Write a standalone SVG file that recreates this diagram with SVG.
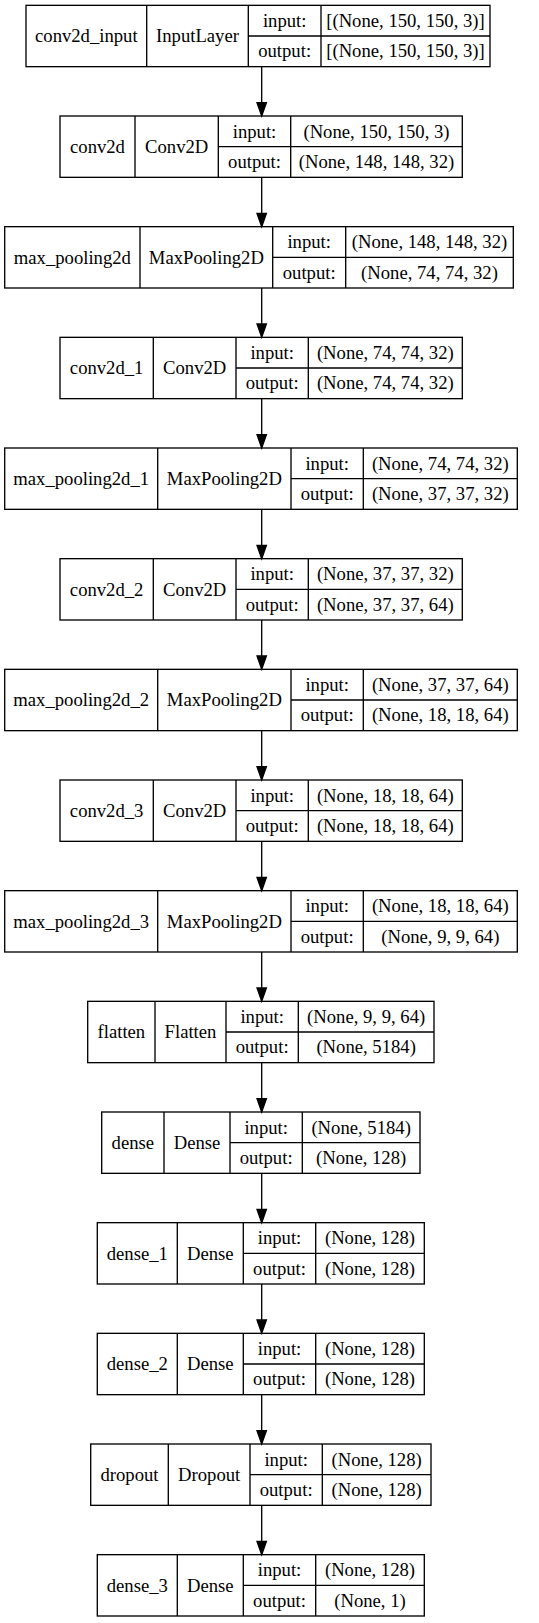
<svg xmlns="http://www.w3.org/2000/svg" width="539" height="1623" viewBox="0 0 539 1623">
<style>
.b{fill:none;stroke:#000;stroke-width:1.33}
text{font-family:"Liberation Serif","Times New Roman",serif;font-size:18.67px;fill:#000;text-anchor:middle}
.e{stroke:#000;stroke-width:1.33;fill:none}
.h{fill:#000;stroke:#000;stroke-width:1.33}
</style>
<rect width="539" height="1623" fill="#fff"/>
<g id="edges">
<line class="e" x1="261.7" y1="66.66" x2="261.7" y2="102.67"/><polygon class="h" points="257,102.67 266.4,102.67 261.7,116"/>
<line class="e" x1="261.7" y1="177.33" x2="261.7" y2="213.34"/><polygon class="h" points="257,213.34 266.4,213.34 261.7,226.67"/>
<line class="e" x1="261.7" y1="288" x2="261.7" y2="324"/><polygon class="h" points="257,324 266.4,324 261.7,337.33"/>
<line class="e" x1="261.7" y1="398.66" x2="261.7" y2="434.67"/><polygon class="h" points="257,434.67 266.4,434.67 261.7,448"/>
<line class="e" x1="261.7" y1="509.33" x2="261.7" y2="545.34"/><polygon class="h" points="257,545.34 266.4,545.34 261.7,558.67"/>
<line class="e" x1="261.7" y1="620" x2="261.7" y2="656"/><polygon class="h" points="257,656 266.4,656 261.7,669.33"/>
<line class="e" x1="261.7" y1="730.66" x2="261.7" y2="766.67"/><polygon class="h" points="257,766.67 266.4,766.67 261.7,780"/>
<line class="e" x1="261.7" y1="841.33" x2="261.7" y2="877.34"/><polygon class="h" points="257,877.34 266.4,877.34 261.7,890.67"/>
<line class="e" x1="261.7" y1="952" x2="261.7" y2="988"/><polygon class="h" points="257,988 266.4,988 261.7,1001.33"/>
<line class="e" x1="261.7" y1="1062.66" x2="261.7" y2="1098.67"/><polygon class="h" points="257,1098.67 266.4,1098.67 261.7,1112"/>
<line class="e" x1="261.7" y1="1173.33" x2="261.7" y2="1209.34"/><polygon class="h" points="257,1209.34 266.4,1209.34 261.7,1222.67"/>
<line class="e" x1="261.7" y1="1284" x2="261.7" y2="1320"/><polygon class="h" points="257,1320 266.4,1320 261.7,1333.33"/>
<line class="e" x1="261.7" y1="1394.66" x2="261.7" y2="1430.67"/><polygon class="h" points="257,1430.67 266.4,1430.67 261.7,1444"/>
<line class="e" x1="261.7" y1="1505.33" x2="261.7" y2="1541.34"/><polygon class="h" points="257,1541.34 266.4,1541.34 261.7,1554.67"/>
</g>
<g id="conv2d_input" transform="translate(0,5.33)">
<rect class="b" x="26" y="0" width="464" height="61.33"/>
<path class="b" d="M146.7,0V61.33M248.3,0V61.33M321,0V61.33M248.3,30.67H490"/>
<text x="86.35" y="37">conv2d_input</text><text x="197.5" y="37">InputLayer</text>
<text x="284.65" y="21.5">input:</text><text x="405.5" y="21.5">[(None, 150, 150, 3)]</text>
<text x="284.65" y="52">output:</text><text x="405.5" y="52">[(None, 150, 150, 3)]</text>
</g>
<g id="conv2d" transform="translate(0,116)">
<rect class="b" x="60" y="0" width="402.3" height="61.33"/>
<path class="b" d="M135,0V61.33M218.3,0V61.33M290.7,0V61.33M218.3,30.67H462.3"/>
<text x="97.5" y="37">conv2d</text><text x="176.65" y="37">Conv2D</text>
<text x="254.5" y="21.5">input:</text><text x="376.5" y="21.5">(None, 150, 150, 3)</text>
<text x="254.5" y="52">output:</text><text x="376.5" y="52">(None, 148, 148, 32)</text>
</g>
<g id="max_pooling2d" transform="translate(0,226.67)">
<rect class="b" x="4.7" y="0" width="508.6" height="61.33"/>
<path class="b" d="M140,0V61.33M272.7,0V61.33M345.7,0V61.33M272.7,30.67H513.3"/>
<text x="72.35" y="37">max_pooling2d</text><text x="206.35" y="37">MaxPooling2D</text>
<text x="309.2" y="21.5">input:</text><text x="429.5" y="21.5">(None, 148, 148, 32)</text>
<text x="309.2" y="52">output:</text><text x="429.5" y="52">(None, 74, 74, 32)</text>
</g>
<g id="conv2d_1" transform="translate(0,337.33)">
<rect class="b" x="60" y="0" width="402.3" height="61.33"/>
<path class="b" d="M153.3,0V61.33M236,0V61.33M308.3,0V61.33M236,30.67H462.3"/>
<text x="106.65" y="37">conv2d_1</text><text x="194.65" y="37">Conv2D</text>
<text x="272.15" y="21.5">input:</text><text x="385.3" y="21.5">(None, 74, 74, 32)</text>
<text x="272.15" y="52">output:</text><text x="385.3" y="52">(None, 74, 74, 32)</text>
</g>
<g id="max_pooling2d_1" transform="translate(0,448)">
<rect class="b" x="4.7" y="0" width="512.6" height="61.33"/>
<path class="b" d="M157.7,0V61.33M291,0V61.33M363.3,0V61.33M291,30.67H517.3"/>
<text x="81.2" y="37">max_pooling2d_1</text><text x="224.35" y="37">MaxPooling2D</text>
<text x="327.15" y="21.5">input:</text><text x="440.3" y="21.5">(None, 74, 74, 32)</text>
<text x="327.15" y="52">output:</text><text x="440.3" y="52">(None, 37, 37, 32)</text>
</g>
<g id="conv2d_2" transform="translate(0,558.67)">
<rect class="b" x="60" y="0" width="402.3" height="61.33"/>
<path class="b" d="M153.3,0V61.33M236,0V61.33M308.3,0V61.33M236,30.67H462.3"/>
<text x="106.65" y="37">conv2d_2</text><text x="194.65" y="37">Conv2D</text>
<text x="272.15" y="21.5">input:</text><text x="385.3" y="21.5">(None, 37, 37, 32)</text>
<text x="272.15" y="52">output:</text><text x="385.3" y="52">(None, 37, 37, 64)</text>
</g>
<g id="max_pooling2d_2" transform="translate(0,669.33)">
<rect class="b" x="4.7" y="0" width="512.6" height="61.33"/>
<path class="b" d="M157.7,0V61.33M291,0V61.33M363.3,0V61.33M291,30.67H517.3"/>
<text x="81.2" y="37">max_pooling2d_2</text><text x="224.35" y="37">MaxPooling2D</text>
<text x="327.15" y="21.5">input:</text><text x="440.3" y="21.5">(None, 37, 37, 64)</text>
<text x="327.15" y="52">output:</text><text x="440.3" y="52">(None, 18, 18, 64)</text>
</g>
<g id="conv2d_3" transform="translate(0,780)">
<rect class="b" x="60" y="0" width="402.3" height="61.33"/>
<path class="b" d="M153.3,0V61.33M236,0V61.33M308.3,0V61.33M236,30.67H462.3"/>
<text x="106.65" y="37">conv2d_3</text><text x="194.65" y="37">Conv2D</text>
<text x="272.15" y="21.5">input:</text><text x="385.3" y="21.5">(None, 18, 18, 64)</text>
<text x="272.15" y="52">output:</text><text x="385.3" y="52">(None, 18, 18, 64)</text>
</g>
<g id="max_pooling2d_3" transform="translate(0,890.67)">
<rect class="b" x="4.7" y="0" width="512.6" height="61.33"/>
<path class="b" d="M157.7,0V61.33M291,0V61.33M363.3,0V61.33M291,30.67H517.3"/>
<text x="81.2" y="37">max_pooling2d_3</text><text x="224.35" y="37">MaxPooling2D</text>
<text x="327.15" y="21.5">input:</text><text x="440.3" y="21.5">(None, 18, 18, 64)</text>
<text x="327.15" y="52">output:</text><text x="440.3" y="52">(None, 9, 9, 64)</text>
</g>
<g id="flatten" transform="translate(0,1001.33)">
<rect class="b" x="87.7" y="0" width="346.3" height="61.33"/>
<path class="b" d="M155,0V61.33M226,0V61.33M298.3,0V61.33M226,30.67H434"/>
<text x="121.35" y="37">flatten</text><text x="190.5" y="37">Flatten</text>
<text x="262.15" y="21.5">input:</text><text x="366.15" y="21.5">(None, 9, 9, 64)</text>
<text x="262.15" y="52">output:</text><text x="366.15" y="52">(None, 5184)</text>
</g>
<g id="dense" transform="translate(0,1112)">
<rect class="b" x="101.7" y="0" width="318.3" height="61.33"/>
<path class="b" d="M164,0V61.33M230,0V61.33M302.3,0V61.33M230,30.67H420"/>
<text x="132.85" y="37">dense</text><text x="197" y="37">Dense</text>
<text x="266.15" y="21.5">input:</text><text x="361.15" y="21.5">(None, 5184)</text>
<text x="266.15" y="52">output:</text><text x="361.15" y="52">(None, 128)</text>
</g>
<g id="dense_1" transform="translate(0,1222.67)">
<rect class="b" x="97.3" y="0" width="327" height="61.33"/>
<path class="b" d="M177.3,0V61.33M243.3,0V61.33M315.7,0V61.33M243.3,30.67H424.3"/>
<text x="137.3" y="37">dense_1</text><text x="210.3" y="37">Dense</text>
<text x="279.5" y="21.5">input:</text><text x="370" y="21.5">(None, 128)</text>
<text x="279.5" y="52">output:</text><text x="370" y="52">(None, 128)</text>
</g>
<g id="dense_2" transform="translate(0,1333.33)">
<rect class="b" x="97.3" y="0" width="327" height="61.33"/>
<path class="b" d="M177.3,0V61.33M243.3,0V61.33M315.7,0V61.33M243.3,30.67H424.3"/>
<text x="137.3" y="37">dense_2</text><text x="210.3" y="37">Dense</text>
<text x="279.5" y="21.5">input:</text><text x="370" y="21.5">(None, 128)</text>
<text x="279.5" y="52">output:</text><text x="370" y="52">(None, 128)</text>
</g>
<g id="dropout" transform="translate(0,1444)">
<rect class="b" x="90.7" y="0" width="340.3" height="61.33"/>
<path class="b" d="M168.3,0V61.33M250,0V61.33M322.3,0V61.33M250,30.67H431"/>
<text x="129.5" y="37">dropout</text><text x="209.15" y="37">Dropout</text>
<text x="286.15" y="21.5">input:</text><text x="376.65" y="21.5">(None, 128)</text>
<text x="286.15" y="52">output:</text><text x="376.65" y="52">(None, 128)</text>
</g>
<g id="dense_3" transform="translate(0,1554.67)">
<rect class="b" x="97.3" y="0" width="327" height="61.33"/>
<path class="b" d="M177.3,0V61.33M243.3,0V61.33M315.7,0V61.33M243.3,30.67H424.3"/>
<text x="137.3" y="37">dense_3</text><text x="210.3" y="37">Dense</text>
<text x="279.5" y="21.5">input:</text><text x="370" y="21.5">(None, 128)</text>
<text x="279.5" y="52">output:</text><text x="370" y="52">(None, 1)</text>
</g>
</svg>
